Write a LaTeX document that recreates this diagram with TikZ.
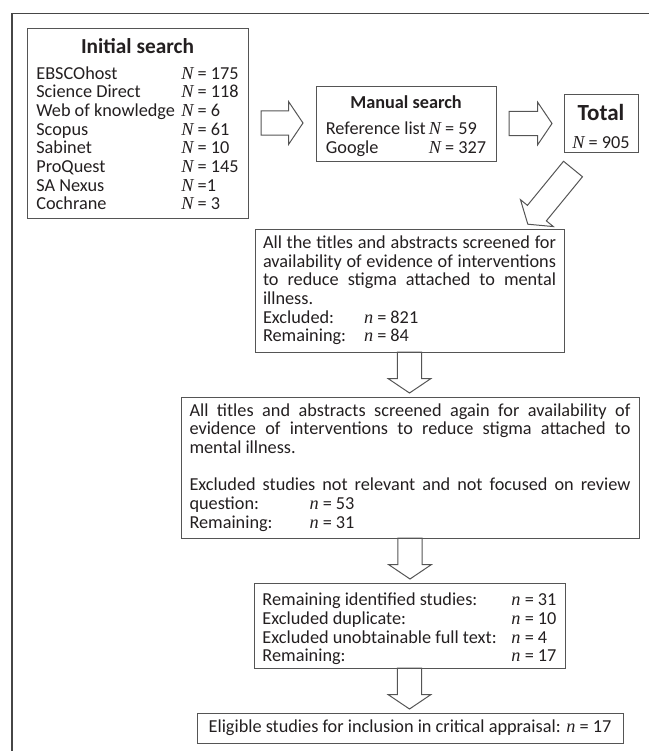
\documentclass[tikz,border=0pt]{standalone}
\usepackage{fontspec}
\setmainfont{Carlito}
\newfontfamily\nfont{Liberation Serif}
\usetikzlibrary{shapes.arrows}

\definecolor{boxgray}{RGB}{85,85,85}
\definecolor{framegray}{RGB}{70,70,70}
\definecolor{inkblack}{RGB}{35,31,32}

\newcommand{\nN}{{\nfont\itshape N}}
\newcommand{\nn}{{\nfont\itshape n}}
\newcommand{\bodyfont}{\fontsize{13.7}{14}\selectfont}
\newcommand{\headfont}{\fontsize{16}{18}\selectfont\bfseries}
\newcommand{\subheadfont}{\fontsize{13.7}{15}\selectfont\bfseries}
\newcommand{\totalfont}{\fontsize{17.3}{19}\selectfont\bfseries}
% extra room above a heading
\newcommand{\toppad}[2]{\raisebox{0pt}[\dimexpr\height+#1\relax]{#2}}

\tikzset{every picture/.style={line width=0.75pt}}
\tikzset{
  box/.style={draw=boxgray, line width=0.75pt, inner sep=0pt, outer sep=0pt, font=\bodyfont, text=inkblack},
  blockarrow/.style={draw=boxgray, line width=0.75pt, single arrow, single arrow head extend=6.75pt,
    single arrow tip angle=112, inner xsep=0pt, inner ysep=8.8pt, outer sep=0pt, minimum height=30.75pt}
}

\begin{document}
\begin{tikzpicture}[x=0.75pt,y=0.75pt,yscale=-1,xscale=1]
\useasboundingbox (0,0) rectangle (649,751);

%Frame
\draw [framegray, line width=1.125pt] (649,13.5) -- (12,13.5) -- (12,751) ;

% Initial search
\node [box, minimum width=165.75pt, minimum height=142.5pt, align=center] (init) at (137.5,123)
  {\toppad{6pt}{\headfont Initial search}\\[5pt]
   \begin{tabular}[t]{@{}p{108.75pt}@{}l@{}}
   EBSCOhost & \nN{} = 175\\
   Science Direct & \nN{} = 118\\
   Web of knowledge & \nN{} = 6\\
   Scopus & \nN{} = 61\\
   Sabinet & \nN{} = 10\\
   ProQuest & \nN{} = 145\\
   SA Nexus & \nN{} =1\\
   Cochrane & \nN{} = 3
   \end{tabular}};
% Manual search
\node [box, minimum width=135pt, minimum height=56.25pt, align=center] (manual) at (406,123.5)
  {\toppad{6pt}{\subheadfont Manual search}\\[5.5pt]
   \begin{tabular}[t]{@{}l@{\,}l@{}}
   Reference list & \nN{} = 59\\
   Google & \nN{} = 327
   \end{tabular}};
% Total
\node [box, minimum width=55.5pt, minimum height=43.5pt, align=center] (total) at (601,123)
  {\toppad{5.25pt}{\totalfont Total}\\[6.75pt] \nN{} = 905};

% First screening
\node [box, minimum width=231.75pt, minimum height=92.25pt, text width=219.75pt, align=justify] (screen1) at (409.5,290.5)
  {All the titles and abstracts screened for\linebreak availability of evidence of interventions\linebreak
   to reduce stigma attached to mental\linebreak illness.\par
   \makebox[75.75pt][l]{Excluded:}\nn{} = 821\par
   \makebox[75.75pt][l]{Remaining:}\nn{} = 84};
% Second screening
\node [box, minimum width=343.5pt, minimum height=105.75pt, text width=330.75pt, align=justify] (screen2) at (410,467.5)
  {All titles and abstracts screened again for availability of\linebreak evidence of interventions to reduce stigma attached to\linebreak
   mental illness.\par\vspace{\baselineskip}
   Excluded studies not relevant and not focused on review\linebreak
   \makebox[90pt][l]{question:}\nn{} = 53\par
   \makebox[90pt][l]{Remaining:}\nn{} = 31};
% Duplicates
\node [box, minimum width=233.25pt, minimum height=63.75pt] (dup) at (409.5,625.5)
  {\raisebox{-3.5pt}[\height][\depth]{\begin{tabular}{@{}p{186.75pt}@{}l@{}}
   Remaining identified studies: & \nn{} = 31\\
   Excluded duplicate: & \nn{} = 10\\
   Excluded unobtainable full text: & \nn{} = 4\\
   Remaining: & \nn{} = 17
   \end{tabular}}};
% Eligible
\node [box, minimum width=319.5pt, minimum height=22.5pt] (final) at (410,728)
  {Eligible studies for inclusion in critical appraisal: \nn{} = 17};

% Block arrows
\node [blockarrow, anchor=tail, minimum height=31.5pt] (arrA) at ([xshift=9.75pt]init.east) {};
\node [blockarrow, anchor=tail, minimum height=32.25pt] (arrB) at ([xshift=9.75pt]manual.east) {};
\node [blockarrow, rotate=230.7, anchor=tail, minimum height=53.5pt] (arrC) at ([xshift=-21pt,yshift=12.75pt]total.south) {};
\node [blockarrow, rotate=-90, anchor=tail] (arrD) at (screen1.south) {};
\node [blockarrow, rotate=-90, anchor=tail] (arrE) at (screen2.south) {};
\node [blockarrow, rotate=-90, anchor=tail] (arrF) at (dup.south) {};

\end{tikzpicture}
\end{document}
